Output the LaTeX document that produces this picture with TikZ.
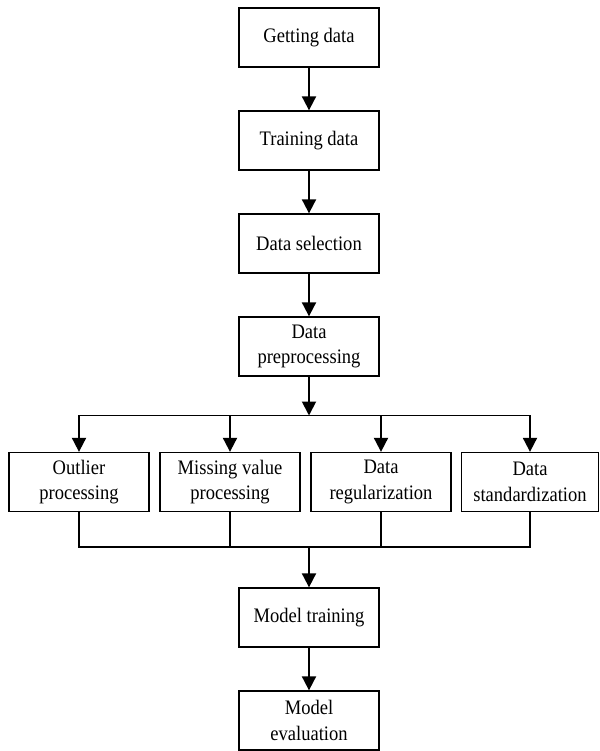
\documentclass[tikz,border=0pt]{standalone}
\usepackage{fontspec}
\setmainfont{Liberation Serif}[FakeStretch=0.9]
\usetikzlibrary{arrows.meta}
\begin{document}
\begin{tikzpicture}[x=1pt,y=-1pt,
  box/.style={draw,line width=1.3pt,minimum width=140pt,minimum height=59pt,inner sep=0pt,align=center,font=\fontsize{20.6}{25.5}\selectfont},
  conn/.style={line width=1.9pt},
  arr/.style={conn,-{Triangle[length=14pt,width=14pt]}}]
\useasboundingbox (0,0) rectangle (599,751);
\node[box] (get) at (309,37.5) {Getting data};
\node[box] (train) at (309,140.5) {Training data};
\node[box] (sel) at (309,243.5) {Data selection};
\node[box] (pre) at (309,346.5) {Data\\preprocessing};
\node[box] (out) at (79,482) {Outlier\\processing};
\node[box] (miss) at (230,482) {Missing value\\processing};
\node[box] (reg) at (381,482) {Data\\regularization};
\node[box,minimum width=137pt] (std) at (530,482) {Data\\standardization};
\node[box] (mtr) at (309,617.5) {Model training};
\node[box] (mev) at (309,720.5) {Model\\evaluation};
\coordinate (tm) at (309,415.5);
\coordinate (bm) at (309,546.7);
\draw[arr] (get) -- (train);
\draw[arr] (train) -- (sel);
\draw[arr] (sel) -- (pre);
\draw[arr] (pre) -- (tm);
\draw[arr] (tm) -| (out.north);
\draw[arr] (tm) -| (std.north);
\draw[arr] (miss.north |- tm) -- (miss.north);
\draw[arr] (reg.north |- tm) -- (reg.north);
\draw[conn] (out.south) |- (bm);
\draw[conn] (std.south) |- (bm);
\draw[conn] (miss.south) -- (miss.south |- bm);
\draw[conn] (reg.south) -- (reg.south |- bm);
\draw[arr] (bm) -- (mtr);
\draw[arr] (mtr) -- (mev);
\end{tikzpicture}
\end{document}
